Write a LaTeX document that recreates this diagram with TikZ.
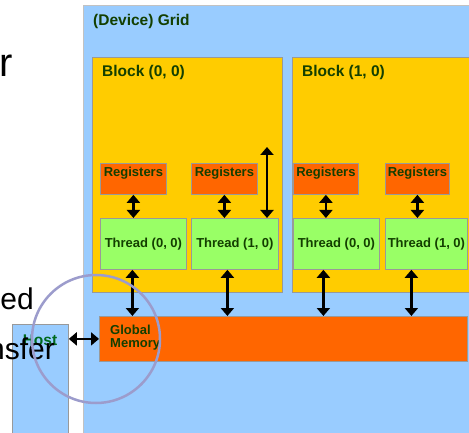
\documentclass[tikz,border=0pt]{standalone}
\usepackage{fontspec}
\setmainfont{Liberation Sans}
\usepackage{xcolor}
\usetikzlibrary{arrows.meta, positioning, calc}
\definecolor{gridblue}{HTML}{99CCFF}
\definecolor{blockyellow}{HTML}{FFCC00}
\definecolor{regorange}{HTML}{FF6600}
\definecolor{thrgreen}{HTML}{99FF66}
\definecolor{boxgray}{HTML}{999999}
\definecolor{labelgreen}{HTML}{133F00}
\definecolor{hostgreen}{HTML}{006A1E}
\definecolor{ringlilac}{HTML}{9C9CCC}

\begin{document}
\begin{tikzpicture}[x=1pt, y=-1pt,
    box/.style={draw=boxgray, line width=0.8pt, inner sep=0pt, anchor=north west},
    lbl/.style={font=\bfseries\fontsize{13}{13}\selectfont, text=labelgreen},
    biglbl/.style={font=\bfseries\fontsize{15.5}{16}\selectfont, text=labelgreen, anchor=base west, inner sep=0pt},
    reg/.style={box, fill=regorange, minimum width=66pt, minimum height=31pt, lbl,
        text height=10pt, text depth=15pt, inner ysep=3pt},
    thr/.style={box, fill=thrgreen, minimum height=51pt, lbl},
    link/.style={{Triangle[width=13pt,length=8pt]}-{Triangle[width=13pt,length=8pt]}, line width=2.4pt},
    slide/.style={anchor=base east, inner sep=0pt, font=\fontsize{30}{32}\selectfont}]
    \useasboundingbox (0,0) rectangle (469,433);
    \clip (0,0) rectangle (469,433);

    % grid and blocks
    \node[box, fill=gridblue, draw=boxgray!60, minimum width=400pt, minimum height=440pt] (grid) at (83,5) {};
    \node[biglbl] (gridlbl) at (93,26) {(Device) Grid};
    \node[box, fill=blockyellow, minimum width=190pt, minimum height=235pt] (blk00) at (92,57) {};
    \node[box, fill=blockyellow, minimum width=190pt, minimum height=235pt] (blk10) at (292,57) {};
    \node[biglbl] (blk00lbl) at (102,77) {Block (0, 0)};
    \node[biglbl] (blk10lbl) at (302,77) {Block (1, 0)};

    % registers and threads
    \node[reg] (reg00) at (100,163) {Registers};
    \node[reg] (reg10) at (191,163) {Registers};
    \node[reg, minimum width=65pt] (reg01) at (293,163) {Registers};
    \node[reg, minimum width=64pt] (reg11) at (385,163) {Registers};
    \node[thr, minimum width=86pt] (thr00) at (100,218) {Thread (0, 0)};
    \node[thr, minimum width=87pt] (thr10) at (191,218) {Thread (1, 0)};
    \node[thr, minimum width=86pt] (thr01) at (293,218) {Thread (0, 0)};
    \node[thr, minimum width=82pt] (thr11) at (385,218) {Thread (1, 0)};

    % memories
    \node[box, fill=regorange, minimum width=368pt, minimum height=45pt] (gmem) at (99,316) {};
    \node[lbl, anchor=north west, inner sep=0pt, align=left] (gmemlbl) at (110,325) {Global\\Memory};
    \node[box, fill=gridblue, minimum width=56pt, minimum height=120pt] (host) at (12,324) {};
    \node[anchor=base, inner sep=0pt, font=\bfseries\fontsize{15.5}{16}\selectfont, text=hostgreen] (hostlbl) at (40,345) {Host};

    % connectors
    \foreach \r/\t in {reg00/thr00, reg10/thr10, reg01/thr01, reg11/thr11}
        \draw[link] (\r) -- (\r |- \t.north);
    \coordinate (shared) at (267,147);
    \draw[link] (shared) -- (shared |- thr10.north);
    \foreach \t/\dx in {thr00/-11, thr10/-7.5, thr01/-13, thr11/-15}
        \draw[link] ([xshift=\dx pt]\t.south) -- ([xshift=\dx pt]\t.south |- gmem.north);
    \draw[link] (host.north east |- gmem.west) -- (gmem.west);

    % slide text behind
    \node[slide, font=\fontsize{40}{42}\selectfont] (txtr) at (13,77) {r};
    \node[slide] (txted) at (34,309) {ed};
    \node[slide] (txtnsfer) at (55,359) {nsfer};

    \draw[ringlilac, line width=2.5pt] (96,339) circle[radius=64pt];
\end{tikzpicture}
\end{document}
